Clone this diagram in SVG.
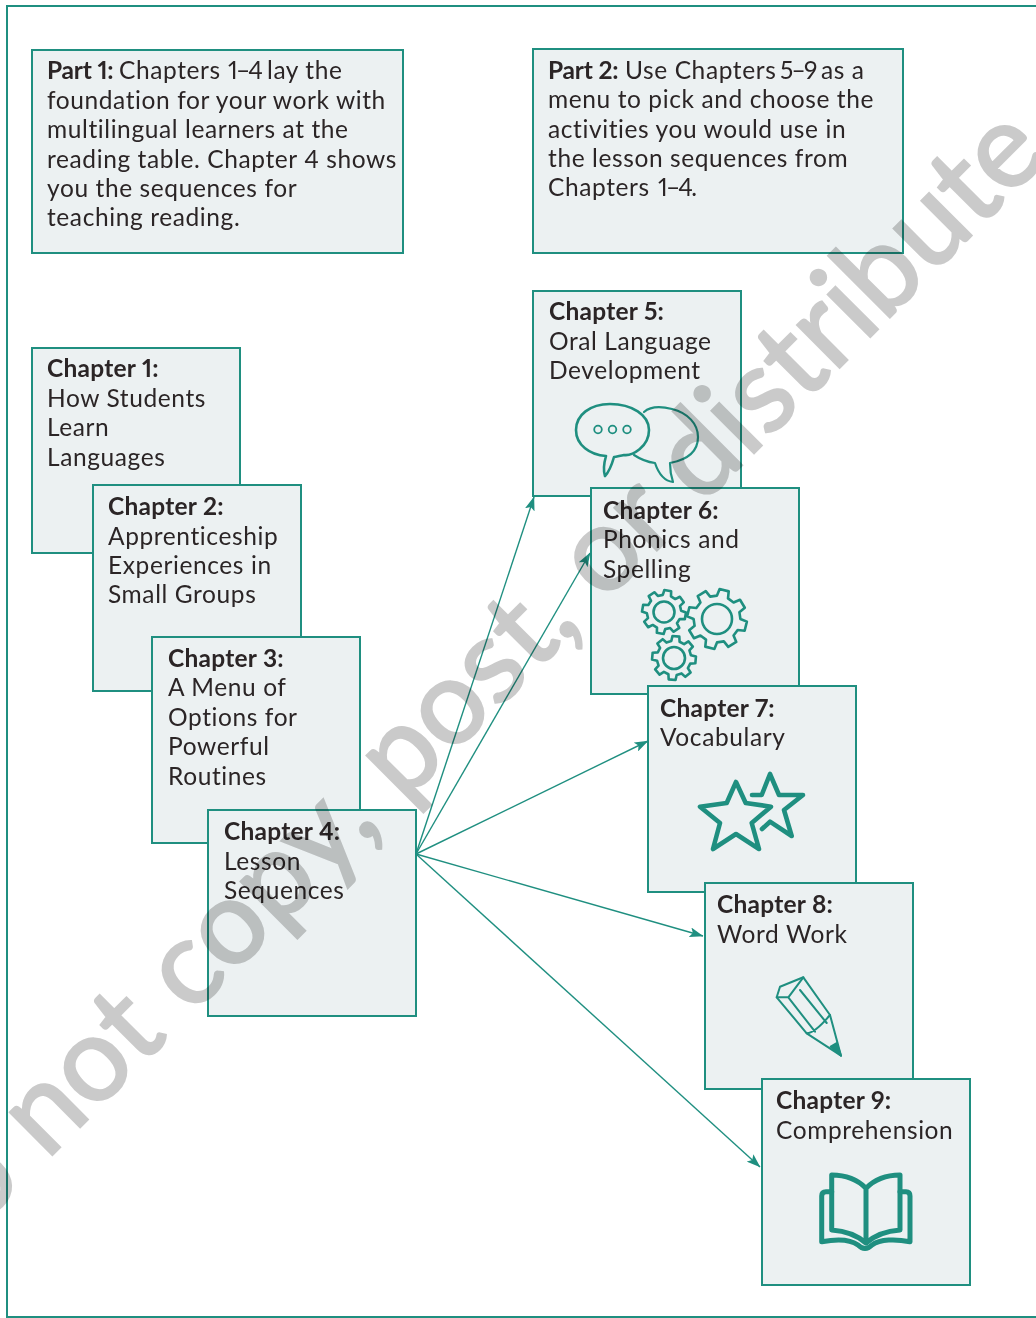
<svg xmlns="http://www.w3.org/2000/svg" width="1036" height="1318" viewBox="0 0 1036 1318">
<style>
.box{fill:#ecf1f2;stroke:#1f8f80;stroke-width:2}
text{font-family:"Lato","Open Sans",sans-serif;font-size:24.5px;fill:#2b2526;letter-spacing:.6px;font-variant-numeric:proportional-nums}
.b{font-weight:700;letter-spacing:.25px}
.p{font-weight:700;letter-spacing:-.2px}
.n{letter-spacing:-1.8px}
.ic{fill:none;stroke:#1f8f80;stroke-linejoin:round;stroke-linecap:round}
.cn{fill:none;stroke:#1f8f80;stroke-width:1.4}
.wm{font-family:"Lato","Open Sans",sans-serif;font-size:118px;fill:#8a8a8a;stroke:#8a8a8a;stroke-width:2.5px;opacity:.45;letter-spacing:0;font-weight:400}
.g{vector-effect:non-scaling-stroke}
</style>
<defs>
<marker id="ah" viewBox="0 0 14 10" refX="13.5" refY="5" markerWidth="14" markerHeight="10" markerUnits="userSpaceOnUse" orient="auto"><path d="M0,0 L14,5 L0,10 L3,5Z" fill="#1f8f80"/></marker>
<path id="gear" class="g" d="M75.7,-18.9L98.8,-15.6L98.8,15.6L75.7,18.9L66.9,40.2L80.9,58.8L58.8,80.9L40.2,66.9L18.9,75.7L15.6,98.8L-15.6,98.8L-18.9,75.7L-40.2,66.9L-58.8,80.9L-80.9,58.8L-66.9,40.2L-75.7,18.9L-98.8,15.6L-98.8,-15.6L-75.7,-18.9L-66.9,-40.2L-80.9,-58.8L-58.8,-80.9L-40.2,-66.9L-18.9,-75.7L-15.6,-98.8L15.6,-98.8L18.9,-75.7L40.2,-66.9L58.8,-80.9L80.9,-58.8L66.9,-40.2Z"/>
</defs>
<rect id="frame" x="7" y="6" width="1040" height="1311" fill="#fff" stroke="#1f8f80" stroke-width="2"/>

<g id="part1"><rect class="box" x="32" y="50" width="371" height="203"/>
<text x="47" y="79"><tspan class="p">Part 1:</tspan><tspan x="119">Chapters</tspan><tspan x="228" class="n">1–4</tspan><tspan x="267">lay the</tspan></text><text x="47" y="109">foundation for your work with</text><text x="47" y="138">multilingual learners at the</text><text x="47" y="168">reading table. Chapter 4 shows</text><text x="47" y="197">you the sequences for</text><text x="47" y="226">teaching reading.</text></g>
<g id="part2"><rect class="box" x="533" y="49" width="370" height="204"/>
<text x="548" y="79"><tspan class="p">Part 2:</tspan><tspan x="625">Use Chapters</tspan><tspan x="780" class="n">5–9</tspan><tspan x="821">as a</tspan></text><text x="548" y="108">menu to pick and choose the</text><text x="548" y="138">activities you would use in</text><text x="548" y="167">the lesson sequences from</text><text x="548" y="196">Chapters<tspan x="658" class="n">1–4.</tspan></text></g>

<g id="ch1"><rect class="box" x="32" y="348" width="208" height="205"/>
<text x="47" y="377" class="b">Chapter 1:</text><text x="47" y="407">How Students</text><text x="47" y="436">Learn</text><text x="47" y="466">Languages</text></g>
<g id="ch2"><rect class="box" x="93" y="485" width="208" height="206"/>
<text x="108" y="515" class="b">Chapter 2:</text><text x="108" y="545">Apprenticeship</text><text x="108" y="574">Experiences in</text><text x="108" y="603">Small Groups</text></g>
<g id="ch3"><rect class="box" x="152" y="637" width="208" height="206"/>
<text x="168" y="667" class="b">Chapter 3:</text><text x="168" y="696">A Menu of</text><text x="168" y="726">Options for</text><text x="168" y="755">Powerful</text><text x="168" y="785">Routines</text></g>
<g id="ch4"><rect class="box" x="208" y="810" width="208" height="206"/>
<text x="224" y="840" class="b">Chapter 4:</text><text x="224" y="870">Lesson</text><text x="224" y="899">Sequences</text></g>

<g id="ch5"><rect class="box" x="533" y="291" width="208" height="205"/>
<text x="549" y="320" class="b">Chapter 5:</text><text x="549" y="350">Oral Language</text><text x="549" y="379">Development</text>
<g class="ic">
<path stroke-width="2.2" d="M644,412C652,405 664,407 672,409C688,413 698,424 698,437C698,452 686,460 670,463C670,470 671,476 673,482C664,481 658,472 655,463C647,462 640,459 634,455"/>
<path stroke-width="2.6" d="M610,404C632,404 649,415 649,430C649,447 632,456 624,455C619,456 616,457 614,457C612,464 609,472 605,476C603,470 604,463 606,456C590,455 576,445 576,430C576,415 590,404 610,404Z"/>
<circle cx="598" cy="429.500" r="3.800" stroke-width="1.800"/><circle cx="612.500" cy="429.500" r="3.800" stroke-width="1.800"/><circle cx="627" cy="429.500" r="3.800" stroke-width="1.800"/>
</g></g>
<g id="ch6"><rect class="box" x="591" y="488" width="208" height="206"/>
<text x="603" y="519" class="b">Chapter 6:</text><text x="603" y="548">Phonics and</text><text x="603" y="578">Spelling</text>
<g class="ic" stroke-width="2.600">
<use href="#gear" transform="translate(664 612) rotate(10) scale(.22)"/><circle cx="664" cy="612" r="10.500"/>
<use href="#gear" transform="translate(717 619) rotate(14) scale(.3)"/><circle cx="717" cy="619" r="15"/>
<use href="#gear" transform="translate(674 658) rotate(5) scale(.22)"/><circle cx="674" cy="658" r="11"/>
</g></g>
<g id="ch7"><rect class="box" x="648" y="686" width="208" height="206"/>
<text x="660" y="717" class="b">Chapter 7:</text><text x="660" y="746">Vocabulary</text>
<g class="ic" stroke-width="4.600">
<path d="M736,782L745.700,803L771,806.700L751.700,823L759,849L736,834L713,849L720,823L700,806.700L726.700,803Z"/>
<path d="M752,795L761.700,795L770,774L779,795L803,795L784,810L791.700,836L770,821.700L762,829"/>
</g></g>
<g id="ch8"><rect class="box" x="705" y="883" width="208" height="206"/>
<text x="717" y="913" class="b">Chapter 8:</text><text x="717" y="943">Word Work</text>
<g class="ic" stroke-width="2">
<path d="M776.700,997.300L780,986.700L803.300,977.300L830,1015L841,1055.700L806.700,1033.300Z"/>
<path d="M776.700,997.300L788.300,997.300L803.300,977.300M788.300,997.300L815,1031.700M800,990L826.700,1023M806.700,1033.300Q815,1033 830,1015"/>
<path d="M830.700,1046.700L836.700,1043L841,1055.700Z" fill="#1f8f80"/>
</g></g>
<g id="ch9"><rect class="box" x="762" y="1079" width="208" height="206"/>
<text x="776" y="1109" class="b">Chapter 9:</text><text x="776" y="1139">Comprehension</text>
<g class="ic" stroke-width="5">
<path d="M866,1188.300C858,1180 846,1175 831.700,1175L831.700,1230C846,1231 858,1236 866,1243C874,1236 886,1231 900,1230L900,1175C886,1175 874,1180 866,1188.300V1243"/>
<path d="M831.700,1191.700H826Q821.700,1191.700 821.700,1196V1241.700C836,1239 850,1239 858,1245Q865,1252 872,1245C880,1239 896,1239 910,1241.700V1196Q910,1191.700 906,1191.700H900"/>
</g></g>

<g id="connectors">
<path class="cn" marker-end="url(#ah)" d="M416,854L534,497"/>
<path class="cn" marker-end="url(#ah)" d="M416,854L590,553"/>
<path class="cn" marker-end="url(#ah)" d="M416,854L648,741"/>
<path class="cn" marker-end="url(#ah)" d="M416,854L703,936"/>
<path class="cn" marker-end="url(#ah)" d="M416,854L760,1167"/>
</g>

<text class="wm" transform="translate(-85 1292) rotate(-45)" style="mix-blend-mode:multiply">Do not copy, post, or distribute</text>
</svg>
